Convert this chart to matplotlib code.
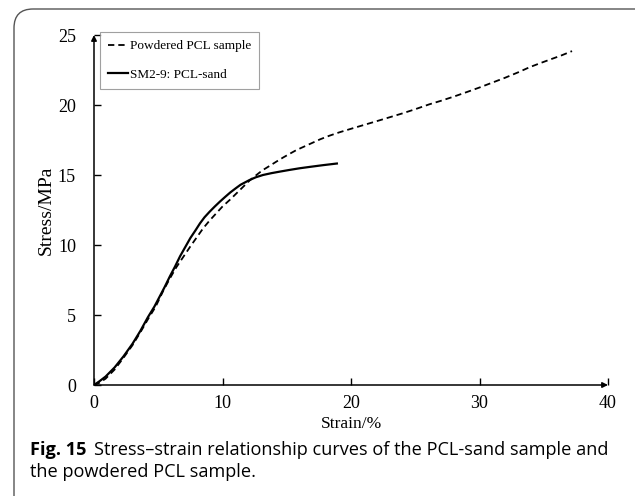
import matplotlib
matplotlib.use('Agg')
import matplotlib.pyplot as plt
from matplotlib.patches import FancyBboxPatch

## data ##
pcl_strain = [0, 0.4, 0.9, 1.6, 2.3, 3.0, 3.6, 4.2, 4.8, 5.4, 5.9, 6.4, 6.95, 7.5,
              8.0, 8.5, 9.0, 9.5, 10.0, 10.6, 11.1, 11.6, 12.1, 12.6, 13.1, 13.7,
              14.2, 14.7, 15.2, 15.75, 16.4, 17.0, 17.6, 18.3, 19.1, 20.0, 21.1, 22.2,
              23.1, 24.0, 25.0, 26.1, 27.0, 28.0, 29.0, 30.0, 31.0, 32.0, 33.0, 33.9,
              34.7, 35.5, 36.4, 37.2]
pcl_stress = [0, 0.15, 0.45, 1.1, 1.95, 2.85, 3.75, 4.7, 5.6, 6.75, 7.6, 8.4, 9.15, 9.9,
              10.55, 11.2, 11.75, 12.25, 12.75, 13.25, 13.7, 14.15, 14.6, 14.97, 15.33, 15.67,
              15.96, 16.24, 16.5, 16.78, 17.05, 17.3, 17.55, 17.8, 18.05, 18.3, 18.6, 18.9,
              19.15, 19.4, 19.7, 20.05, 20.3, 20.6, 20.92, 21.25, 21.6, 21.95, 22.33, 22.7,
              22.98, 23.25, 23.55, 23.85]

sand_strain = [0, 0.4, 0.9, 1.6, 2.3, 3.0, 3.6, 4.2, 4.7, 5.1, 5.5, 5.9, 6.3, 6.7,
               7.1, 7.5, 7.9, 8.25, 8.6, 9.0, 9.4, 9.8, 10.2, 10.6, 11.0, 11.4,
               12.1, 12.6, 13.15, 13.8, 14.45, 15.2, 16.0, 16.8, 17.8, 18.9]
sand_stress = [0, 0.25, 0.6, 1.25, 2.05, 2.95, 3.85, 4.85, 5.6, 6.3, 7.0, 7.75, 8.45, 9.2,
               9.85, 10.5, 11.05, 11.55, 11.98, 12.38, 12.75, 13.1, 13.43, 13.75, 14.03, 14.3,
               14.64, 14.84, 15.0, 15.13, 15.24, 15.36, 15.48, 15.58, 15.7, 15.82]

labels = ['Powdered PCL sample', 'SM2-9: PCL-sand']
xticks = [0, 10, 20, 30, 40]
yticks = [0, 5, 10, 15, 20, 25]

W, H = 635, 496
serif = ['Liberation Serif', 'DejaVu Serif']
sans = ['Open Sans', 'DejaVu Sans']

fig = plt.figure(figsize=(W / 100, H / 100), dpi=100)

# rounded frame around figure + caption
frame = FancyBboxPatch((14 / W, -30 / H), 660 / W, 517 / H,
                       boxstyle='round,pad=0,rounding_size=0.03',
                       transform=fig.transFigure, fill=False,
                       edgecolor='#555555', linewidth=1.0, mutation_aspect=W / H)
fig.patches.append(frame)

ax = fig.add_axes([94 / W, (H - 385) / H, (608 - 94) / W, (385 - 35) / H])
ax.plot(pcl_strain, pcl_stress, color='black', lw=1.3, ls=(0, (3.5, 2.2)),
        label=labels[0])
ax.plot(sand_strain, sand_stress, color='black', lw=1.6, label=labels[1])

ax.set_xlim(0, 40)
ax.set_ylim(0, 25)
ax.set_xticks(xticks)
ax.set_yticks(yticks)
ax.tick_params(direction='in', length=5, width=1.0, labelsize=13)
ax.tick_params(axis='x', pad=7)
ax.tick_params(axis='y', pad=13)
for lab in ax.get_xticklabels() + ax.get_yticklabels():
    lab.set_family(serif)

for s in ax.spines.values():
    s.set_visible(False)
# axes with arrowheads
arrow = dict(arrowstyle='-|>', color='black', lw=1.1, mutation_scale=8,
             shrinkA=0, shrinkB=0)
ax.annotate('', xy=(1.0, 0), xytext=(0, 0), xycoords='axes fraction',
            textcoords='axes fraction', arrowprops=arrow)
ax.annotate('', xy=(0, 1.0), xytext=(0, 0), xycoords='axes fraction',
            textcoords='axes fraction', arrowprops=arrow)

ax.set_xlabel('Strain/%', family=serif, fontsize=12.5, labelpad=3)
ax.set_ylabel('Stress/MPa', family=serif, fontsize=14, labelpad=2)

leg = ax.legend(loc='upper left', bbox_to_anchor=(100 / W, (H - 32) / H),
                bbox_transform=fig.transFigure, borderaxespad=0,
                prop={'family': serif, 'size': 9.5}, fancybox=False,
                edgecolor='#888888', handlelength=1.55, handletextpad=0.12,
                labelspacing=1.25, borderpad=0.6)
leg.get_frame().set_linewidth(0.8)

# caption, bold lead then regular text
cap_size = 13.1
t1 = fig.text(30 / W, (H - 455) / H, 'Fig. 15', family=sans, fontweight='bold',
              fontsize=cap_size, va='baseline')
fig.canvas.draw()
bb = t1.get_window_extent()
fig.text((bb.x1 + 8) / W, (H - 455) / H,
         'Stress\u2013strain relationship curves of the PCL-sand sample and',
         family=sans, fontsize=cap_size, va='baseline')
fig.text(30 / W, (H - 477) / H, 'the powdered PCL sample.', family=sans,
         fontsize=cap_size, va='baseline')

fig.savefig('out.png', dpi=100)
